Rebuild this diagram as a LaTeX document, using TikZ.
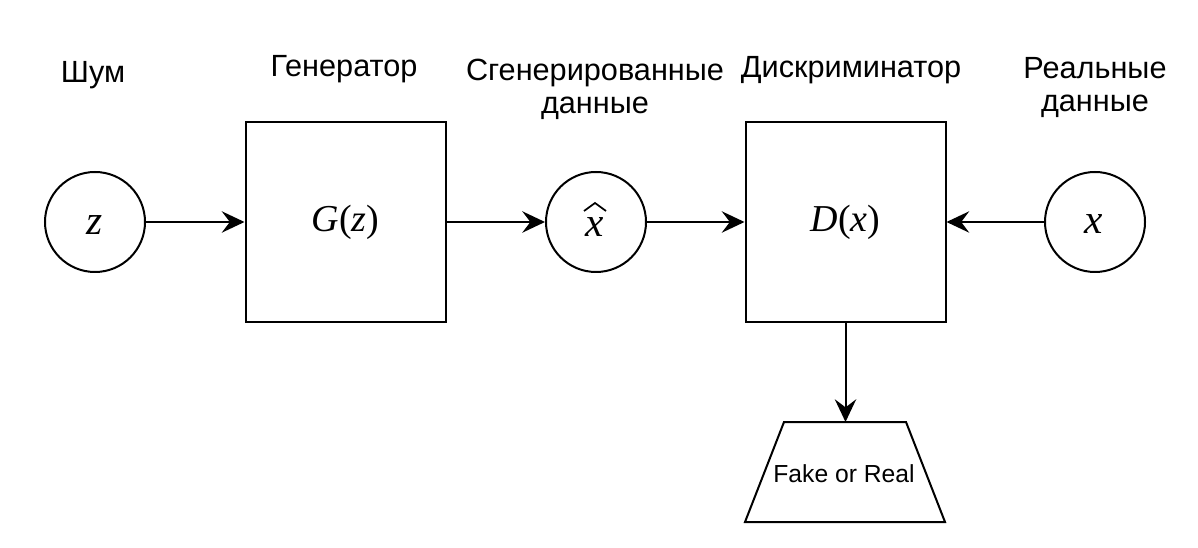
\documentclass[tikz,border=0pt]{standalone}
\usepackage{fontspec}
\setmainfont{Liberation Sans}
\newfontfamily\mfont{Liberation Serif}
\newcommand{\mi}[1]{{\mfont\itshape #1}}
\newcommand{\mr}[1]{{\mfont #1}}
\usetikzlibrary{arrows.meta}
\begin{document}
\begin{tikzpicture}[x=0.75pt,y=-0.75pt,
  lw/.style={line width=1.5pt},
  circ/.style={circle,draw,lw,minimum size=75pt,inner sep=0pt},
  ctext/.style={font=\fontsize{31}{36}\selectfont,inner sep=0pt},
  blk/.style={rectangle,draw,lw,minimum size=150pt,inner sep=0pt,font=\fontsize{28.5}{34}\selectfont},
  lbl/.style={font=\fontsize{23}{24.75}\selectfont,align=center,inner sep=0pt},
  outp/.style={font=\fontsize{18.5}{22}\selectfont,inner sep=0pt},
  hat/.style={line width=1.3pt,line join=miter},
  arr/.style={lw,-{Stealth[length=17pt,width=16pt,inset=6pt]}}]
\useasboundingbox (0,0) rectangle (1198,548);
\node[circ] (z) at (95,222) {};
\node[ctext] (zt) at (95,225) {\mi{z}};
\node[blk] (G) at (345.5,222) {\mi{G}\mr{(}\mi{z}\mr{)}};
\node[circ] (xh) at (596,222) {};
\node[ctext] (xht) at (595,227) {\mi{x}};
\draw[hat] (584,211) -- (595,203) -- (606,211);
\node[blk] (D) at (845.5,222) {\mi{D}\mr{(}\mi{x}\mr{)}};
\node[circ] (x) at (1095,222) {};
\node[ctext] (xt) at (1094,224) {\mi{x}};
\coordinate (t1) at (745,522);
\coordinate (t2) at (784,422);
\coordinate (t3) at (906,422);
\coordinate (t4) at (945,522);
\coordinate (frtop) at (845.5,422);
\draw[lw] (t1) -- (t2) -- (t3) -- (t4) -- cycle;
\node[outp] (fr) at (844,474) {Fake or Real};
\node[lbl] (l1) at (93,75) {Шум};
\node[lbl] (l2) at (344,69) {Генератор};
\node[lbl] (l3) at (595,89) {Сгенерированные\\данные};
\node[lbl] (l4) at (851,70) {Дискриминатор};
\node[lbl] (l5) at (1095,88) {Реальные\\данные};
\draw[arr] (z) -- (G);
\draw[arr] (G) -- (xh);
\draw[arr] (xh) -- (D);
\draw[arr] (x) -- (D);
\draw[arr] (D) -- (frtop);
\end{tikzpicture}
\end{document}
